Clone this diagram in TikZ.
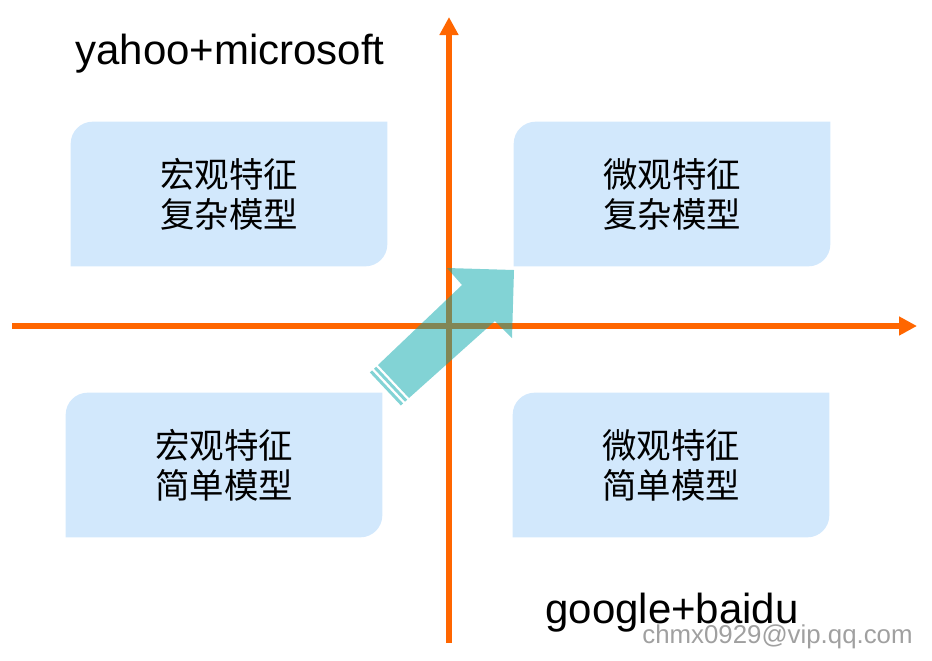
\documentclass[tikz,border=0pt]{standalone}
\usepackage{fontspec}
\setmainfont{Liberation Sans}
\newfontfamily\cjk{Noto Sans CJK SC}
\usetikzlibrary{arrows.meta,backgrounds}
\definecolor{axisorange}{RGB}{255,102,0}
\definecolor{quadblue}{RGB}{210,232,252}
\definecolor{flowteal}{RGB}{5,167,171}
\definecolor{markgray}{RGB}{160,160,160}

\begin{document}
\begin{tikzpicture}[%
	x=0.02cm, y=-0.02cm,
	quad/.style = {minimum width=6.32cm, minimum height=2.88cm, inner sep=0pt, align=center,
	  font=\cjk\fontsize{19.6pt}{22.8pt}\selectfont},
	quadFill/.style = {fill=quadblue},
	axisLine/.style = {draw=axisorange, line width=0.12cm, -{Triangle[length=0.36cm,width=0.36cm]}},
	flowArrow/.style = {fill=flowteal, fill opacity=.5},
	cornerLabel/.style = {font=\fontsize{23.9pt}{28pt}\selectfont, inner sep=0pt, anchor=base west},
	mailMark/.style = {font=\fontsize{14.7pt}{17pt}\selectfont, text=markgray, inner sep=0pt, anchor=base west}
	]
  \useasboundingbox (0,0) rectangle (932,660);
  \node [quad] (macroComplex) at (229,194) {宏观特征\\复杂模型};
  \node [quad] (microComplex) at (672,194) {微观特征\\复杂模型};
  \node [quad] (macroSimple) at (224,465) {宏观特征\\简单模型};
  \node [quad] (microSimple) at (671,465) {微观特征\\简单模型};
  \begin{scope}[on background layer]
	\foreach \q in {macroComplex,microComplex,macroSimple,microSimple}
	  \fill [quadFill] (\q.south west) -- ([yshift=-0.44cm]\q.north west)
		arc [start angle=180, end angle=90, radius=0.44cm] -- (\q.north east)
		-- ([yshift=0.44cm]\q.south east)
		arc [start angle=0, end angle=-90, radius=0.44cm] -- cycle;
  \end{scope}
  \node [cornerLabel] (yahooLabel) at (75,64) {yahoo+microsoft};
  \node [cornerLabel] (googleLabel) at (545,623) {google+baidu};
  \node [mailMark] (mailLabel) at (642,643) {chmx0929@vip.qq.com};
  % axes
  \coordinate (xStart) at (12,326);
  \coordinate (xEnd) at (917,326);
  \coordinate (yStart) at (449,643);
  \coordinate (yEnd) at (449,17);
  \draw [axisLine] (xStart) -- (xEnd);
  \draw [axisLine] (yStart) -- (yEnd);
  % big arrow
  \fill [flowArrow] (378,365) -- (462,285) -- (447,268) -- (514,270) -- (512,338) -- (495,321) -- (409,398) -- cycle;
  \fill [flowArrow] (376.2,366.7) -- (407.2,399.7) -- (405.0,401.7) -- (374.0,368.7) -- cycle;
  \fill [flowArrow] (372.1,370.4) -- (403.1,403.4) -- (400.9,405.5) -- (369.9,372.5) -- cycle;
\end{tikzpicture}
\end{document}
